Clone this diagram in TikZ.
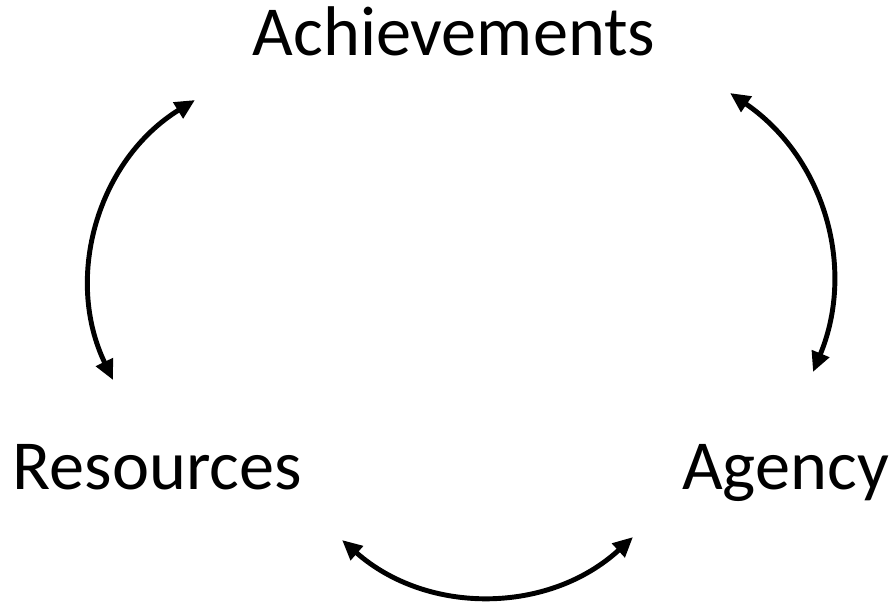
\documentclass[tikz,border=0pt]{standalone}
\usepackage{fontspec}
\setmainfont{Carlito}
\usetikzlibrary{arrows.meta}

\begin{document}
\begin{tikzpicture}[
    label text/.style={anchor=base,font=\fontsize{20}{24}\selectfont},
    cycle arrow/.style={{Triangle[length=2mm,width=1.8mm]}-{Triangle[length=2mm,width=1.8mm]},
      line width=1.4pt,black}
  ]
  \useasboundingbox (0,0) rectangle (8.95,-6.03);

  % the three labels of the cycle
  \node[label text] (ach) at (4.54,-0.55) {Achievements};
  \node[label text] (res) at (1.575,-4.89) {Resources};
  \node[label text] (agy) at (7.855,-4.89) {Agency};

  % arrow end points
  \coordinate (resTop) at (1.13,-3.80);
  \coordinate (achLeft) at (1.95,-1.00);
  \coordinate (achRight) at (7.30,-0.93);
  \coordinate (agyTop) at (8.13,-3.72);
  \coordinate (resBottom) at (3.42,-5.40);
  \coordinate (agyBottom) at (6.33,-5.37);

  % --- two-way links ---
  \draw[cycle arrow] (resTop) to[bend left=42] (achLeft);
  \draw[cycle arrow] (achRight) to[bend left=39] (agyTop);
  \draw[cycle arrow] (resBottom) to[bend right=42] (agyBottom);
\end{tikzpicture}
\end{document}
